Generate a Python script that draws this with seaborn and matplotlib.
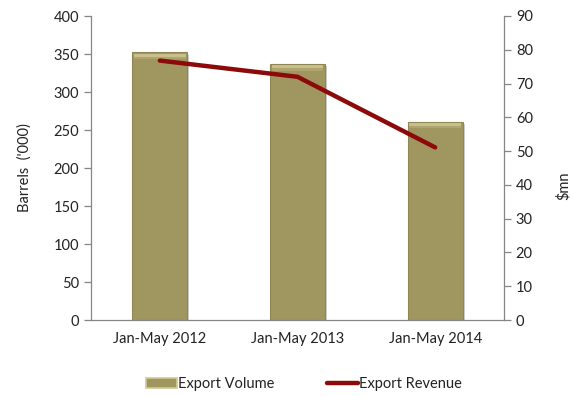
import matplotlib
matplotlib.use("Agg")
import matplotlib.pyplot as plt
import matplotlib.patheffects as pe
from matplotlib.patches import Rectangle
from matplotlib.lines import Line2D
from matplotlib.ticker import FixedLocator
import seaborn as sns
import pandas as pd

periods = ["Jan-May 2012", "Jan-May 2013", "Jan-May 2014"]
export_volume = [352, 337, 261]       # barrels ('000)
export_revenue = [76.8, 72.0, 51.1]   # $mn

sns.set_theme(style="white")
plt.rcParams["font.family"] = ["Lato", "DejaVu Sans"]

bar_color = "#A09660"
line_color = "#8C0A0A"
axis_color = "#868686"
text_color = "#222222"
fs = 10.5

df = pd.DataFrame({"period": periods, "volume": export_volume, "revenue": export_revenue})

fig = plt.figure(figsize=(5.73, 3.96), dpi=100)
ax = fig.add_axes([91 / 573, 1 - 320 / 396, (504 - 91) / 573, (320 - 16) / 396])

sns.barplot(data=df, x="period", y="volume", color=bar_color, width=0.4,
            saturation=1, edgecolor="#8E8654", linewidth=0.8, ax=ax)

# bevel highlight and soft shadow on each bar
for p in ax.patches:
    p.set_path_effects([pe.SimplePatchShadow(offset=(1.5, -1.5), shadow_rgbFace="#B0B0B0", alpha=0.6),
                        pe.Normal()])
    x0, y0 = p.get_x(), p.get_y()
    w, h = p.get_width(), p.get_height()
    ax.add_patch(Rectangle((x0 + w * 0.03, y0 + h - 6), w * 0.94, 4.5,
                           facecolor="#D6CD9C", edgecolor="none", alpha=0.75, zorder=p.get_zorder() + 0.1))
    ax.add_patch(Rectangle((x0 + w * 0.03, y0 + h - 9), w * 0.94, 3,
                           facecolor="#BDB27A", edgecolor="none", alpha=0.5, zorder=p.get_zorder() + 0.1))

ax.set_xlim(-0.5, 2.5)
ax.set_ylim(0, 400)
ax.set_yticks(range(0, 401, 50))
ax.set_xlabel("")
ax.set_ylabel("Barrels  ('000)", fontsize=fs, color=text_color, labelpad=16)

ax2 = ax.twinx()
sns.lineplot(x=[0, 1, 2], y=export_revenue, color=line_color, linewidth=3.2, ax=ax2)
ax2.set_ylim(0, 90)
ax2.set_yticks(range(0, 91, 10))
ax2.set_ylabel("$mn", fontsize=fs, color=text_color, rotation=90, va="center")
ax2.yaxis.set_label_coords((564 - 91) / (504 - 91), 0.44)
ax2.set_xlim(-0.5, 2.5)

for a in (ax, ax2):
    for s in a.spines.values():
        s.set_color(axis_color)
        s.set_linewidth(0.9)
    a.spines["top"].set_visible(False)
    a.tick_params(axis="y", colors=axis_color, labelcolor=text_color, labelsize=fs,
                  length=5, width=0.9, direction="out")
    a.grid(False)

ax.spines["right"].set_visible(False)
ax2.spines["left"].set_visible(False)
ax2.spines["bottom"].set_visible(False)

# category labels centred, tick marks on the boundaries
ax.tick_params(axis="x", which="major", length=0, labelsize=fs, labelcolor=text_color, pad=9)
ax.xaxis.set_minor_locator(FixedLocator([-0.5, 0.5, 1.5, 2.5]))
ax.tick_params(axis="x", which="minor", length=5, width=0.9, color=axis_color, direction="out")
ax2.tick_params(axis="x", which="both", length=0, labelbottom=False)

handles = [
    Rectangle((0, 0), 1, 1, facecolor=bar_color, edgecolor="#D2C996", linewidth=1.2),
    Line2D([0], [0], color=line_color, linewidth=3.2),
]
fig.legend(handles, ["Export Volume", "Export Revenue"], loc="center",
           bbox_to_anchor=(304 / 573, 1 - 384 / 396), ncol=2, frameon=False,
           fontsize=fs, handlelength=2.1, handletextpad=0.1, columnspacing=3.6,
           labelcolor=text_color)

fig.savefig("out.png", dpi=100)
